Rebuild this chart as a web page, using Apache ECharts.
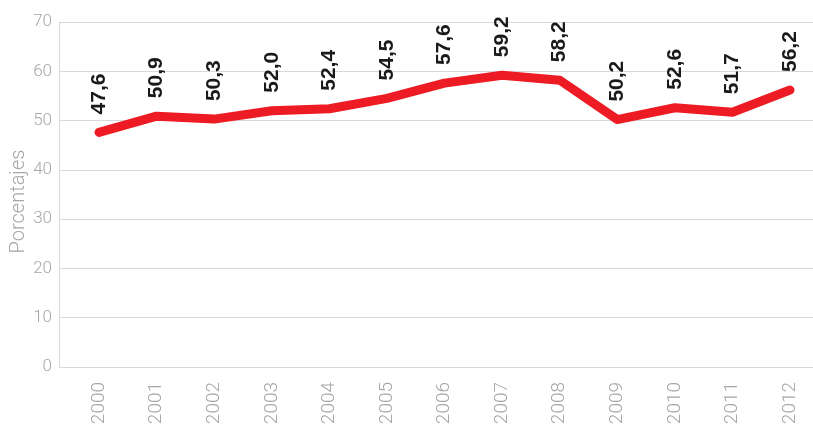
<!DOCTYPE html>
<html>
<head>
<meta charset="utf-8">
<script src="https://cdn.jsdelivr.net/npm/echarts@6/dist/echarts.min.js"></script>
<style>
  html, body { margin: 0; padding: 0; background: #ffffff; }
  #chart { width: 813px; height: 427px; }
</style>
</head>
<body>
<div id="chart"></div>
<script>
// Años y porcentajes de la serie
const years = ['2000', '2001', '2002', '2003', '2004', '2005', '2006',
               '2007', '2008', '2009', '2010', '2011', '2012'];
const percentages = [47.6, 50.9, 50.3, 52.0, 52.4, 54.5, 57.6,
                     59.2, 58.2, 50.2, 52.6, 51.7, 56.2];
const yTicks = { min: 0, max: 70, step: 10 };
const yAxisTitle = 'Porcentajes';

const grayText = '#a6a6a6';
const gridGray = '#d9d9d9';
const lightFont = 'Roboto, "Liberation Sans", sans-serif';

const chart = echarts.init(document.getElementById('chart'), null, { renderer: 'canvas' });

chart.setOption({
  backgroundColor: '#ffffff',
  animation: false,
  grid: [
    // background frame: value axis, gridlines and left rule
    { left: 59, right: 0, top: 22, bottom: 60, containLabel: false, outerBoundsMode: 'none' },
    // the year axis and the line itself
    { left: 99, right: 23, top: 22, bottom: 60, containLabel: false, outerBoundsMode: 'none' }
  ],
  xAxis: [
    { gridIndex: 0, type: 'value', min: 0, max: 1, show: false },
    {
      gridIndex: 1,
      type: 'category',
      data: years,
      boundaryGap: false,
      axisLine: { show: false },
      axisTick: { show: false },
      splitLine: { show: false },
      axisLabel: {
        rotate: 90,
        margin: 15,
        color: grayText,
        fontFamily: lightFont,
        fontWeight: 300,
        fontSize: 19
      }
    }
  ],
  yAxis: [
    {
      gridIndex: 0,
      type: 'value',
      min: yTicks.min,
      max: yTicks.max,
      interval: yTicks.step,
      name: yAxisTitle,
      nameLocation: 'middle',
      nameGap: 30,
      nameMoveOverlap: false,
      nameRotate: 90,
      nameTextStyle: {
        color: grayText,
        fontFamily: lightFont,
        fontWeight: 300,
        fontSize: 20,
        padding: [0, 14, 0, 0]
      },
      axisLine: { show: true, lineStyle: { color: gridGray, width: 1 } },
      axisTick: { show: false },
      splitLine: { show: true, lineStyle: { color: gridGray, width: 1 } },
      axisLabel: {
        margin: 7,
        color: grayText,
        fontFamily: lightFont,
        fontWeight: 300,
        fontSize: 17
      }
    },
    {
      gridIndex: 1,
      type: 'value',
      min: yTicks.min,
      max: yTicks.max,
      interval: yTicks.step,
      show: false
    }
  ],
  series: [
    {
      type: 'line',
      xAxisIndex: 1,
      yAxisIndex: 1,
      data: percentages,
      symbol: 'circle',
      symbolSize: 2,
      showSymbol: true,
      itemStyle: { color: '#ed1c24' },
      lineStyle: { color: '#ed1c24', width: 9, cap: 'round', join: 'round' },
      label: {
        show: true,
        position: 'top',
        distance: 17,
        rotate: 90,
        align: 'left',
        verticalAlign: 'middle',
        color: '#1a1a1a',
        fontFamily: '"Liberation Sans", Arial, sans-serif',
        fontWeight: 'bold',
        fontSize: 21,
        formatter: p => p.value.toFixed(1).replace('.', ',')
      }
    }
  ]
});
</script>
</body>
</html>
